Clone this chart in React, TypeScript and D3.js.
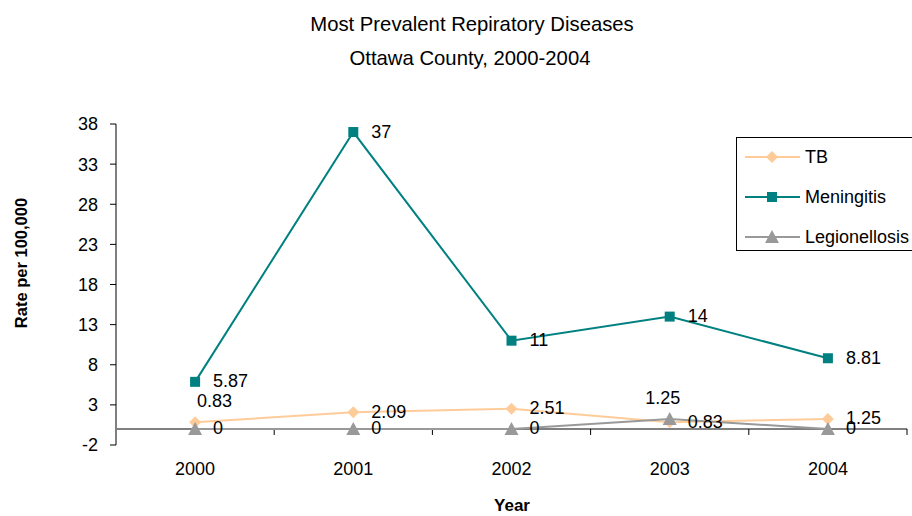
import React from "react";
import * as d3 from "d3";

const years = ["2000", "2001", "2002", "2003", "2004"];
const tb = [0.83, 2.09, 2.51, 0.83, 1.25];
const meningitis = [5.87, 37, 11, 14, 8.81];
const legionellosis = [0, 0, 0, 1.25, 0];
const yTicks = [-2, 3, 8, 13, 18, 23, 28, 33, 38];
const seriesNames = ["TB", "Meningitis", "Legionellosis"];

const FONT = "'Liberation Sans', Arial, sans-serif";

export default function App() {
  const W = 912, H = 516;
  const x0 = 116, x1 = 907;
  const x = d3.scaleBand<string>().domain(years).range([x0, x1]);
  const y = d3.scaleLinear().domain([-2, 38]).range([445, 124]);
  const cx = (i: number) => (x(years[i]) as number) + x.bandwidth() / 2;
  const line = d3.line<number>().x((_, i) => cx(i)).y((d) => y(d));

  const series = [
    { name: seriesNames[0], data: tb, color: "#FFCC99", marker: "diamond" },
    { name: seriesNames[1], data: meningitis, color: "#008080", marker: "square" },
    { name: seriesNames[2], data: legionellosis, color: "#999999", marker: "triangle" },
  ];

  const marker = (type: string, px: number, py: number, color: string, key: string) => {
    if (type === "diamond")
      return <path key={key} d={`M${px},${py - 6}L${px + 6},${py}L${px},${py + 6}L${px - 6},${py}Z`} fill={color} />;
    if (type === "square")
      return <rect key={key} x={px - 5} y={py - 5} width={10} height={10} fill={color} />;
    return <path key={key} d={`M${px},${py - 7}L${px + 7},${py + 6}L${px - 7},${py + 6}Z`} fill={color} />;
  };

  // label placement: default to the right; some placed above
  const labelPos = (si: number, i: number, v: number) => {
    const px = cx(i), py = y(v);
    if (si === 0 && i === 0) return { lx: px + 2, ly: py - 22, anchor: "start" };
    if (si === 2 && i === 3) return { lx: px - 7, ly: py - 21, anchor: "middle" };
    return { lx: px + 18, ly: py - 1, anchor: "start" };
  };

  return (
    <svg width={W} height={H} style={{ position: "absolute", left: 0, top: 0, background: "#fff" }} fontFamily={FONT}>
      <text x={472} y={31} textAnchor="middle" fontSize={20.3} fill="#000">Most Prevalent Repiratory Diseases</text>
      <text x={470} y={65} textAnchor="middle" fontSize={20.3} fill="#000">Ottawa County, 2000-2004</text>

      {/* y axis */}
      <line x1={x0} x2={x0} y1={y(38)} y2={y(-2)} stroke="#000" strokeWidth={1} />
      {yTicks.map((t) => (
        <g key={t}>
          <line x1={x0 - 6} x2={x0} y1={y(t)} y2={y(t)} stroke="#000" />
          <text x={x0 - 18} y={y(t)} dy="0.36em" textAnchor="end" fontSize={18}>{t}</text>
        </g>
      ))}
      {/* x axis at zero */}
      <line x1={x0} x2={x1} y1={y(0)} y2={y(0)} stroke="#808080" strokeWidth={2} />
      {years.map((yr, i) => (
        <line key={yr} x1={x0 + x.bandwidth() * (i + 1)} x2={x0 + x.bandwidth() * (i + 1)} y1={y(0)} y2={y(0) + 6} stroke="#000" />
      ))}
      {years.map((yr, i) => (
        <text key={yr} x={cx(i)} y={475} textAnchor="middle" fontSize={18}>{yr}</text>
      ))}
      <text x={512} y={511} textAnchor="middle" fontSize={17} fontWeight="bold">Year</text>
      <text transform="translate(27,263) rotate(-90)" textAnchor="middle" fontSize={16.5} fontWeight="bold">Rate per 100,000</text>

      {series.map((s) => (
        <g key={s.name}>
          <path d={line(s.data) as string} fill="none" stroke={s.color} strokeWidth={2} />
          {s.data.map((v, i) => marker(s.marker, cx(i), y(v), s.color, s.name + i))}
        </g>
      ))}
      {series.map((s, si) =>
        s.data.map((v, i) => {
          const p = labelPos(si, i, v);
          return (
            <text key={s.name + "l" + i} x={p.lx} y={p.ly} dy="0.36em" textAnchor={p.anchor as any} fontSize={18} fill="#000">
              {v}
            </text>
          );
        })
      )}

      {/* legend */}
      <rect x={736.5} y={137.5} width={180} height={113} fill="#fff" stroke="#000" />
      {series.map((s, si) => {
        const ly = 157 + si * 40;
        return (
          <g key={s.name + "leg"}>
            <line x1={745} x2={800} y1={ly} y2={ly} stroke={s.color} strokeWidth={2} />
            {marker(s.marker, 772, ly, s.color, s.name + "lm")}
            <text x={805} y={ly} dy="0.36em" fontSize={18}>{s.name}</text>
          </g>
        );
      })}
    </svg>
  );
}
